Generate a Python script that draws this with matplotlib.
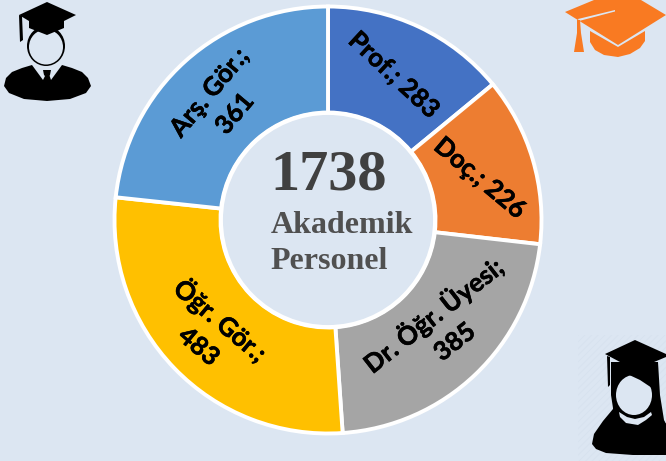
import matplotlib
matplotlib.use('Agg')
import matplotlib.pyplot as plt
import matplotlib.patheffects as pe
from matplotlib.patches import Polygon, Ellipse, Circle, Rectangle

# Slices, clockwise from 12 o'clock
categories = ['Prof.', 'Doç.', 'Dr. Öğr. Üyesi', 'Öğr. Gör.', 'Arş. Gör.']
values = [283, 226, 385, 483, 361]
# the drawn slices in the picture don't follow the printed numbers (Prof. and Arş. Gör. are off),
# so the sizes are measured from the slice angles and scaled to the same total
slice_sizes = [244, 222, 384, 483, 405]
colors = ['#4472c4', '#ed7d31', '#a5a5a5', '#ffc000', '#5b9bd5']
total = 1738

bg = '#dce6f2'
W, H = 666, 461

plt.rcParams['hatch.linewidth'] = 0.5

fig = plt.figure(figsize=(6.66, 4.61), dpi=100, facecolor=bg)
ax = fig.add_axes([0, 0, 1, 1])


def poly(pts, color, z=3):
    ax.add_patch(Polygon(pts, closed=True, facecolor=color, edgecolor='none', zorder=z))


# y axis is inverted below, so counterclock=True comes out clockwise on screen
ax.pie(slice_sizes, colors=colors, startangle=-90, counterclock=True, center=(328, 220), radius=213.5,
       frame=True, wedgeprops=dict(width=106, edgecolor='white', linewidth=2.8))
ax.set_xlim(0, W)
ax.set_ylim(H, 0)
ax.set_aspect('equal')
ax.axis('off')
ax.add_patch(Circle((328, 220), 107, facecolor=bg, edgecolor='white', linewidth=2.8, zorder=2))

# slice labels, thin stroke to get the heavier look of the original bold
lab = dict(family='Lato', fontweight='bold', fontsize=18.5, color='black', ha='center', va='center',
           linespacing=1.45, rotation_mode='anchor', zorder=5,
           path_effects=[pe.withStroke(linewidth=0.4, foreground='black')])
ax.text(394, 75, f'{categories[0]}; {values[0]}', rotation=-43, **lab)
ax.text(480, 178, f'{categories[1]}; {values[1]}', rotation=-40, **lab)
ax.text(443, 327, f'{categories[2]};\n{values[2]}', rotation=38, **lab)
ax.text(211, 332, f'{categories[3]};\n{values[3]}', rotation=-40, **lab)
ax.text(222, 103, f'{categories[4]};\n{values[4]}', rotation=50, **lab)

# centre text
ax.text(329, 175, str(total), family='Liberation Serif', fontweight='bold', fontsize=42,
        color='#404040', ha='center', va='center', zorder=5)
ax.text(271, 225, 'Akademik', family='Liberation Serif', fontweight='bold', fontsize=23,
        color='#505050', ha='left', va='center', zorder=5)
ax.text(270, 261, 'Personel', family='Liberation Serif', fontweight='bold', fontsize=23,
        color='#505050', ha='left', va='center', zorder=5)

# male icon, top left
ax.add_patch(Ellipse((46, 46), 38, 40, facecolor='black', zorder=2.5))
ax.add_patch(Ellipse((46, 47), 34, 35, facecolor=bg, zorder=2.6))
poly([(47, 2), (76, 15), (64, 21), (64, 28), (47, 35), (29, 28), (29, 21), (19, 15)], 'black')
poly([(19, 15), (22, 16), (23, 40), (20, 42)], 'black')
poly([(4, 86), (6, 78), (12, 72), (22, 68), (32, 65), (43, 80), (46, 74), (49, 74), (51, 80), (62, 65),
      (72, 68), (82, 72), (88, 78), (91, 86), (86, 93), (70, 99), (47, 101), (24, 99), (9, 93)], 'black')
poly([(43, 70), (51, 70), (50, 75), (47, 78), (44, 75)], 'black', z=3.1)

# orange cap, top right
orange = '#f97a22'
poly([(565, 12), (594, 0), (641, 0), (666, 15), (618, 45)], orange)
poly([(590, 31), (618, 47), (645, 31), (645, 41), (640, 48), (630, 54), (618, 57), (604, 55),
      (595, 50), (590, 42)], orange)
poly([(578, 19), (615, 10), (615, 11.5), (579, 21)], bg, z=3.2)
poly([(577, 20), (580, 20), (581, 33), (584, 52), (574, 52), (577, 33)], orange, z=3.3)

# faint hatched box behind the female icon
ax.add_patch(Rectangle((578, 335), 88, 126, facecolor='none', edgecolor='#d6e1ee', hatch='/////',
                       linewidth=0, zorder=1))

# female icon, bottom right
poly([(635, 340), (666, 354), (666, 357), (635, 370), (605, 354)], 'black')
poly([(607, 356), (610, 357), (610, 385), (608, 387)], 'black')
poly([(611, 362), (658, 362), (660, 395), (664, 420), (666, 424), (666, 441), (612, 441), (613, 408),
      (611, 395)], 'black', z=2.5)
ax.add_patch(Ellipse((634, 395), 36, 40, facecolor=bg, zorder=2.6))
poly([(616, 388), (620, 380), (625, 373), (640, 380), (652, 388), (652, 368), (616, 368)], 'black', z=2.7)
poly([(592, 444), (594, 434), (603, 421), (613, 409), (655, 409), (666, 424), (666, 455), (633, 455),
      (606, 453), (596, 449)], 'black', z=2.4)
poly([(619, 412), (627, 417), (635, 419), (644, 417), (651, 412), (652, 415), (646, 420), (638, 425),
      (626, 423), (620, 417)], bg, z=3.2)

fig.savefig('out.png', dpi=100, facecolor=bg)
